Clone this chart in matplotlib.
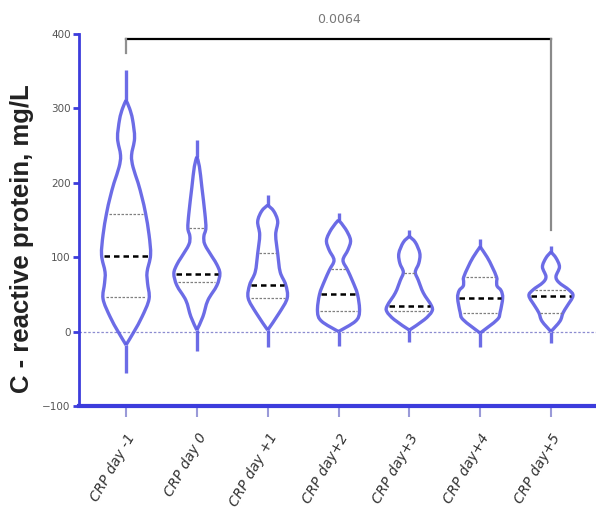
import numpy as np
import matplotlib
matplotlib.use('Agg')
import matplotlib.pyplot as plt
from matplotlib.path import Path
from matplotlib.patches import PathPatch

# values (mg/L)
CATEGORIES = ['CRP day -1', 'CRP day 0', 'CRP day +1', 'CRP day+2',
              'CRP day+3', 'CRP day+4', 'CRP day+5']
MEDIANS = [102, 78, 63, 51, 35, 45, 48]
Q1 = [47, 67, 45, 27, 27, 25, 25]
Q3 = [158, 139, 105, 84, 79, 73, 56]
WHISKER_LO = [-56, -26, -21, -19, -14, -21, -16]
WHISKER_HI = [351, 258, 183, 159, 136, 125, 115]

# violin outlines: (value, half-width in px of the original picture)
PROFILE_1 = [(-18, 0), (0, 8), (20, 16), (44, 23), (65, 21.5), (80, 21), (103, 24.5),
             (130, 23), (159, 19.5), (180, 16), (200, 12), (221, 7), (237, 5.5),
             (260, 8.5), (285, 6.5), (300, 3.5), (311, 0)]
PROFILE_2 = [(2, 0), (20, 6), (42, 11), (62, 20), (78, 23), (90, 20), (100, 15.5),
             (117, 8), (128, 7), (139, 9), (159, 8), (194, 5), (222, 2.5), (235, 0)]
PROFILE_3 = [(2, 0), (25, 11.5), (45, 19.5), (63, 18), (80, 12.5), (105, 10), (130, 8),
             (148, 10), (162, 6), (170, 0)]
PROFILE_4 = [(0, 0), (14, 17), (27, 21), (50, 19), (68, 14), (83, 9), (96, 4.5),
             (110, 9.5), (123, 12), (138, 7), (150, 0)]
PROFILE_5 = [(2, 0), (16, 15), (27, 22.5), (35, 22), (52, 14), (69, 9), (80, 6),
             (92, 9.5), (105, 10.5), (120, 6), (128, 0)]
PROFILE_6 = [(-2, 0), (16, 17), (26, 20), (45, 22.5), (55, 21), (61, 17), (67, 16.5),
             (73, 16.5), (87, 12), (100, 7), (114, 0)]
PROFILE_7 = [(0, 0), (14, 9), (25, 12), (34, 16), (48, 22), (56, 18), (66, 8), (74, 5),
             (87, 8.5), (99, 5), (107, 0)]
PROFILES = [PROFILE_1, PROFILE_2, PROFILE_3, PROFILE_4, PROFILE_5, PROFILE_6, PROFILE_7]

P_VALUE = '0.0064'
BRACKET_Y = 393
BRACKET_LEFT_END = 375
BRACKET_RIGHT_END = 136

PX_PER_CAT = 70.8
VIOLIN_COLOR = '#5c5ce4'
AXIS_COLOR = '#3c3cdc'


def curve_through(points):
    # catmull-rom segments as cubic bezier, passes through every outline point
    pts = [np.asarray(p, dtype=float) for p in points]
    verts = [pts[0]]
    codes = [Path.MOVETO]
    n = len(pts)
    for i in range(n - 1):
        p0 = pts[i - 1] if i > 0 else pts[i]
        p3 = pts[i + 2] if i + 2 < n else pts[i + 1]
        c1 = pts[i] + (pts[i + 1] - p0) / 6
        c2 = pts[i + 1] - (p3 - pts[i]) / 6
        verts += [c1, c2, pts[i + 1]]
        codes += [Path.CURVE4] * 3
    return Path(verts, codes)


fig = plt.figure(figsize=(5.96, 5.09), dpi=100)
ax = fig.add_axes([0.1326, 0.2024, 0.8674, 0.7308])

ax.axhline(0, color='#8c8cd0', linestyle=(0, (2, 1.5)), linewidth=0.9, zorder=1)

for i, prof in enumerate(PROFILES):
    x0 = i + 1
    ys = np.array([p[0] for p in prof], dtype=float)
    hw = np.array([p[1] for p in prof], dtype=float) / PX_PER_CAT
    for side in (1, -1):
        half = list(zip(x0 + side * hw, ys))
        ax.add_patch(PathPatch(curve_through(half), facecolor='none', edgecolor=VIOLIN_COLOR,
                               linewidth=2.4, alpha=0.9, joinstyle='round', zorder=3))
    ax.plot([x0, x0], [WHISKER_LO[i], ys[0]], color=VIOLIN_COLOR, linewidth=2.4,
            alpha=0.9, solid_capstyle='butt', zorder=3)
    ax.plot([x0, x0], [ys[-1], WHISKER_HI[i]], color=VIOLIN_COLOR, linewidth=2.4,
            alpha=0.9, solid_capstyle='butt', zorder=3)

    w = np.interp(MEDIANS[i], ys, hw) * 0.92
    ax.plot([x0 - w, x0 + w], [MEDIANS[i]] * 2, color='black', linewidth=1.8,
            linestyle=(0, (2.2, 1.6)), zorder=4)
    for q in (Q1[i], Q3[i]):
        w = np.interp(q, ys, hw) * 0.88
        ax.plot([x0 - w, x0 + w], [q, q], color='#808080', linewidth=0.9,
                linestyle=(0, (2, 1.2)), zorder=4)

# significance bracket between day -1 and day +5
ax.plot([1, 7], [BRACKET_Y, BRACKET_Y], color='black', linewidth=1.6,
        clip_on=False, zorder=5)
ax.plot([1, 1], [BRACKET_LEFT_END, BRACKET_Y], color='#909090', linewidth=1.6,
        clip_on=False, zorder=5)
ax.plot([7, 7], [BRACKET_RIGHT_END, BRACKET_Y], color='#8a8a8a', linewidth=1.6,
        clip_on=False, zorder=5)
ax.text(4, 411, P_VALUE, ha='center', va='bottom', fontsize=9, color='#777777',
        family=['Liberation Sans Narrow', 'DejaVu Sans'], clip_on=False)

ax.set_xlim(0.336, 7.636)
ax.set_ylim(-100, 400)
ax.set_yticks([-100, 0, 100, 200, 300, 400])
ax.set_xticks(range(1, len(CATEGORIES) + 1))
ax.set_xticklabels(CATEGORIES, rotation=60, ha='right', rotation_mode='anchor',
                   fontsize=10, style='italic', color='#333333')

for s in ('top', 'right'):
    ax.spines[s].set_visible(False)
ax.spines['left'].set_color(AXIS_COLOR)
ax.spines['left'].set_linewidth(2)
ax.spines['bottom'].set_color(AXIS_COLOR)
ax.spines['bottom'].set_linewidth(3)

ax.tick_params(axis='y', length=4, width=2, color=AXIS_COLOR, labelsize=7.5,
               labelcolor='#555555', pad=2)
ax.tick_params(axis='x', length=8, width=1.5, color='#9a9ad8', pad=10)

ax.set_ylabel('C - reactive protein, mg/L', fontsize=18.5, fontweight='bold',
              family='Liberation Sans', color='#222222')
ax.yaxis.set_label_coords(-0.088, 0.45)

fig.savefig('out.png', dpi=100)
